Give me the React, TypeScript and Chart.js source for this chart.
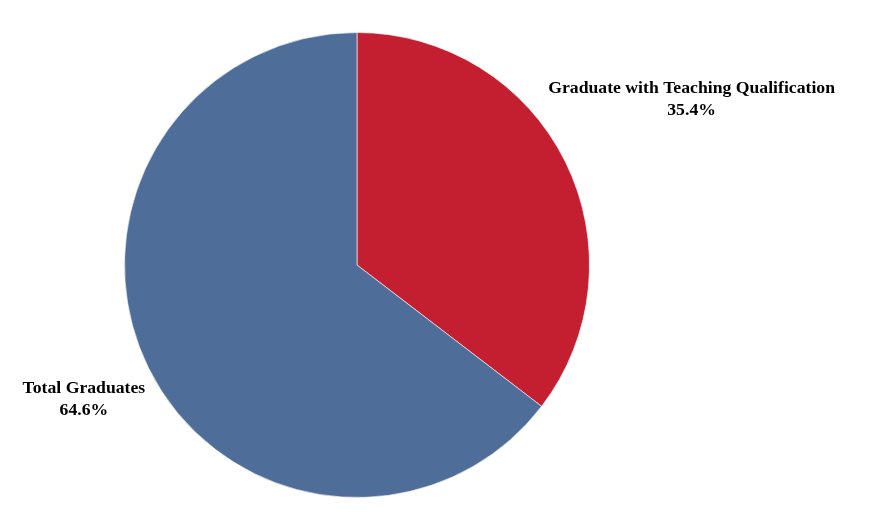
import React, { useEffect, useRef } from "react";
import { Chart, registerables } from "chart.js";

Chart.register(...registerables);

const categories = ["Graduate with Teaching Qualification", "Total Graduates"];
const values = [35.4, 64.6];
const percentLabels = ["35.4%", "64.6%"];
const colors = ["#C41F30", "#4F6D99"];
const labelDistance = [1.605, 1.31];

const labelPlugin = {
  id: "outsideLabels",
  afterDraw(chart: any) {
    const ctx = chart.ctx;
    const meta = chart.getDatasetMeta(0);
    ctx.save();
    ctx.font = "bold 17.7px 'Liberation Serif', 'Times New Roman', serif";
    ctx.fillStyle = "#000";
    ctx.textAlign = "center";
    ctx.textBaseline = "middle";
    meta.data.forEach((arc: any, i: number) => {
      const p = arc.getProps(["x", "y", "startAngle", "endAngle", "outerRadius"], true);
      const mid = (p.startAngle + p.endAngle) / 2;
      const d = p.outerRadius * labelDistance[i];
      const cx = p.x + Math.cos(mid) * d;
      const cy = p.y + Math.sin(mid) * d;
      ctx.fillText(categories[i], cx, cy - 11);
      ctx.fillText(percentLabels[i], cx, cy + 11);
    });
    ctx.restore();
  },
};

export default function App() {
  const ref = useRef<HTMLCanvasElement>(null);
  useEffect(() => {
    if (!ref.current) return;
    const chart = new Chart(ref.current, {
      type: "pie",
      data: {
        labels: categories,
        datasets: [
          {
            data: values,
            backgroundColor: colors,
            borderColor: "rgba(255,255,255,0.6)",
            borderWidth: 1,
          },
        ],
      },
      options: {
        animation: false,
        responsive: false,
        maintainAspectRatio: false,
        layout: { padding: { left: 124, right: 284, top: 32, bottom: 28 } },
        plugins: {
          legend: { display: false },
          tooltip: { enabled: false },
        },
      },
      plugins: [labelPlugin],
    });
    return () => chart.destroy();
  }, []);
  return (
    <div style={{ position: "fixed", left: 0, top: 0, width: 874, height: 526, background: "#fff" }}>
      <canvas ref={ref} width={874} height={526} style={{ width: 874, height: 526 }} />
    </div>
  );
}
